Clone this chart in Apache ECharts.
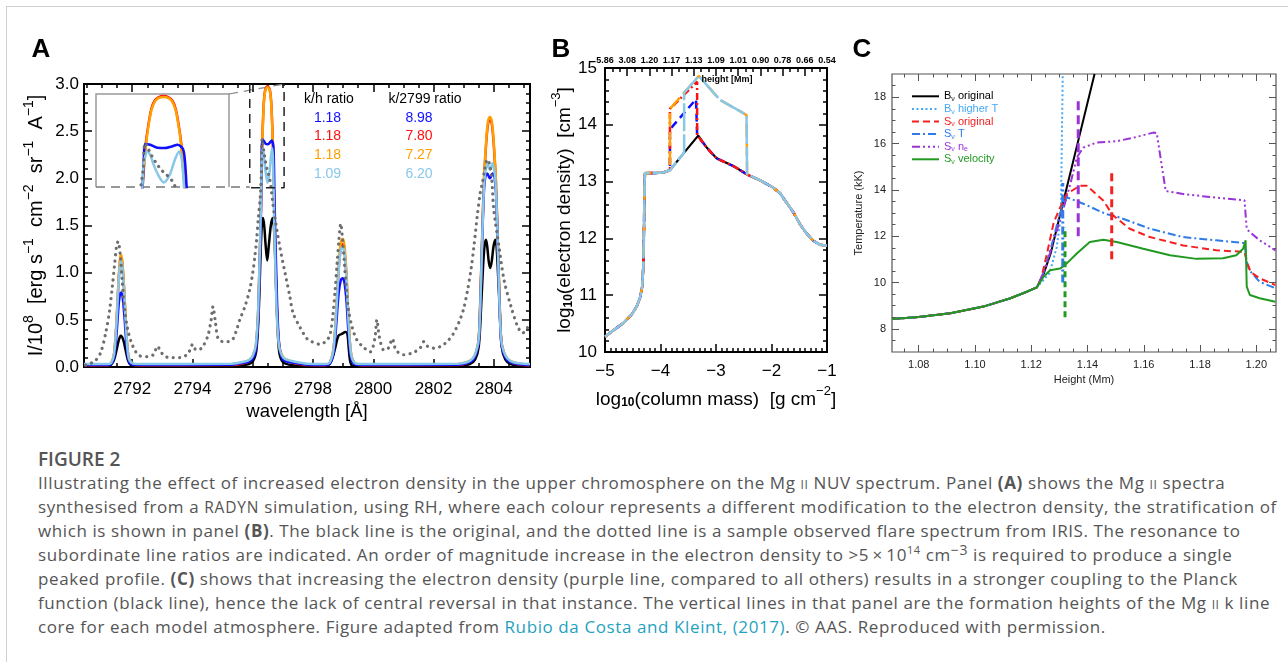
<!DOCTYPE html>
<html>
<head>
<meta charset="utf-8">
<title>Figure 2</title>
<script src="https://cdn.jsdelivr.net/npm/echarts@6.0.0/dist/echarts.min.js"></script>
<style>
  html, body { margin: 0; padding: 0; background: #fff; }
  #page { position: relative; width: 1288px; height: 662px; overflow: hidden; }
  #card { position: absolute; left: 6px; top: 6px; width: 1400px; height: 800px; border-left: 1px solid #cfcfcf; border-top: 1px solid #cfcfcf; }
  #chart { position: absolute; left: 0; top: 0; width: 1288px; height: 440px; }
  #caption { position: absolute; left: 38px; top: 440px; color: #555; font-family: "Open Sans", sans-serif; white-space: nowrap; }
  #caption .title { position: absolute; top: 7px; font-size: 19px; font-weight: 600; line-height: 24px; }
  #caption .ln { position: absolute; left: 0; font-size: 17px; letter-spacing: 0.6px; line-height: 24px; }
  .sc { font-variant: small-caps; }
  .rd { font-size: 15.5px; letter-spacing: 0.8px; }
  b { font-weight: 700; }
  a { color: #1fa2bf; text-decoration: none; }
  sup { line-height: 0; }
  sup.s1 { font-size: 11px; vertical-align: 7px; }
  sup.s2 { font-size: 14px; vertical-align: 6px; }
</style>
</head>
<body>
<div id="page">
  <div id="card"></div>
  <div id="chart"></div>
  <div id="caption">
    <div class="title">FIGURE 2</div>
    <div class="ln" style="top:31px">Illustrating the effect of increased electron density in the upper chromosphere on the Mg <span class="sc">ii</span> NUV spectrum. Panel <b>(A)</b> shows the Mg <span class="sc">ii</span> spectra</div>
    <div class="ln" style="top:55px">synthesised from a <span class="rd">RADYN</span> simulation, using RH, where each colour represents a different modification to the electron density, the stratification of</div>
    <div class="ln" style="top:79px">which is shown in panel <b>(B)</b>. The black line is the original, and the dotted line is a sample observed flare spectrum from IRIS. The resonance to</div>
    <div class="ln" style="top:103px">subordinate line ratios are indicated. An order of magnitude increase in the electron density to &gt;5&thinsp;×&thinsp;10<sup class="s1">14</sup> cm<sup class="s2">−3</sup> is required to produce a single</div>
    <div class="ln" style="top:127px">peaked profile. <b>(C)</b> shows that increasing the electron density (purple line, compared to all others) results in a stronger coupling to the Planck</div>
    <div class="ln" style="top:151px">function (black line), hence the lack of central reversal in that instance. The vertical lines in that panel are the formation heights of the Mg <span class="sc">ii</span> k line</div>
    <div class="ln" style="top:175px">core for each model atmosphere. Figure adapted from <a>Rubio da Costa and Kleint, (2017)</a>. © AAS. Reproduced with permission.</div>
  </div>
</div>
<script>
// ---------- panel A: Mg II spectra, [wavelength (Å), I/1e8] ----------
const specBlack = [
  [2790.4,0.012],[2791.2,0.012],[2791.3,0.025],[2791.4,0.08],[2791.48,0.18],[2791.55,0.28],[2791.62,0.33],[2791.7,0.29],[2791.78,0.18],[2791.86,0.07],[2791.95,0.02],[2792.1,0.012],
  [2795.4,0.014],[2795.8,0.025],[2796.0,0.06],[2796.12,0.18],[2796.2,0.6],[2796.26,1.2],[2796.3,1.5],[2796.34,1.58],[2796.38,1.5],[2796.43,1.28],[2796.48,1.13],[2796.53,1.28],[2796.6,1.5],[2796.66,1.58],[2796.7,1.5],[2796.74,1.2],[2796.8,0.6],[2796.87,0.18],[2796.98,0.06],[2797.2,0.025],[2797.6,0.014],
  [2798.45,0.012],[2798.55,0.035],[2798.65,0.1],[2798.75,0.22],[2798.84,0.33],[2798.95,0.35],[2799.08,0.37],[2799.14,0.35],[2799.19,0.18],[2799.24,0.05],[2799.32,0.012],
  [2802.9,0.014],[2803.2,0.03],[2803.38,0.08],[2803.5,0.22],[2803.58,0.65],[2803.64,1.05],[2803.69,1.28],[2803.74,1.35],[2803.78,1.28],[2803.83,1.12],[2803.88,1.05],[2803.93,1.12],[2803.99,1.28],[2804.05,1.35],[2804.09,1.28],[2804.13,1.05],[2804.19,0.65],[2804.26,0.22],[2804.38,0.08],[2804.56,0.03],[2804.9,0.014],[2805.2,0.012]
];
const specRed = [
  [2790.4,0.018],[2791.2,0.018],[2791.3,0.035],[2791.4,0.14],[2791.48,0.48],[2791.55,0.92],[2791.6,1.13],[2791.63,1.16],[2791.67,1.1],[2791.73,0.83],[2791.8,0.39],[2791.88,0.1],[2792.0,0.03],[2792.2,0.018],
  [2795.3,0.02],[2795.7,0.04],[2795.9,0.07],[2796.0,0.11],[2796.1,0.21],[2796.17,0.52],[2796.22,1.02],[2796.26,1.52],[2796.283,1.92],[2796.302,2.2],[2796.317,2.42],[2796.34,2.62],[2796.37,2.82],[2796.403,2.92],[2796.44,2.96],[2796.49,2.975],[2796.54,2.96],[2796.577,2.92],[2796.61,2.82],[2796.64,2.62],[2796.663,2.42],[2796.678,2.2],[2796.697,1.92],[2796.723,1.52],[2796.763,1.02],[2796.813,0.52],[2796.883,0.21],[2796.98,0.11],[2797.1,0.07],[2797.4,0.04],[2797.8,0.02],
  [2798.4,0.018],[2798.55,0.04],[2798.68,0.19],[2798.77,0.57],[2798.85,1.03],[2798.92,1.26],[2798.98,1.3],[2799.04,1.24],[2799.11,0.95],[2799.18,0.48],[2799.26,0.14],[2799.38,0.04],[2799.6,0.018],
  [2802.8,0.02],[2803.1,0.04],[2803.3,0.08],[2803.42,0.16],[2803.5,0.3],[2803.56,0.8],[2803.62,1.45],[2803.67,1.95],[2803.71,2.19],[2803.76,2.43],[2803.81,2.58],[2803.87,2.63],[2803.93,2.58],[2803.98,2.43],[2804.03,2.19],[2804.07,1.95],[2804.12,1.45],[2804.18,0.8],[2804.24,0.3],[2804.32,0.16],[2804.45,0.08],[2804.65,0.04],[2805.0,0.02],[2805.2,0.018]
];
const specOrange = [
  [2790.4,0.028],[2791.2,0.028],[2791.3,0.04],[2791.4,0.15],[2791.48,0.5],[2791.55,0.95],[2791.6,1.16],[2791.63,1.19],[2791.67,1.12],[2791.73,0.85],[2791.8,0.4],[2791.88,0.1],[2792.0,0.04],[2792.2,0.028],
  [2795.3,0.03],[2795.7,0.05],[2795.9,0.08],[2796.0,0.12],[2796.1,0.22],[2796.17,0.52],[2796.22,1.02],[2796.26,1.52],[2796.286,1.92],[2796.305,2.2],[2796.32,2.42],[2796.343,2.62],[2796.372,2.81],[2796.405,2.91],[2796.44,2.95],[2796.49,2.965],[2796.54,2.95],[2796.575,2.91],[2796.608,2.81],[2796.637,2.62],[2796.66,2.42],[2796.675,2.2],[2796.694,1.92],[2796.72,1.52],[2796.76,1.02],[2796.81,0.52],[2796.88,0.22],[2796.98,0.12],[2797.1,0.08],[2797.4,0.05],[2797.8,0.03],
  [2798.4,0.028],[2798.55,0.045],[2798.68,0.2],[2798.77,0.6],[2798.85,1.08],[2798.92,1.32],[2798.98,1.36],[2799.04,1.3],[2799.11,1.0],[2799.18,0.5],[2799.26,0.15],[2799.38,0.045],[2799.6,0.028],
  [2802.8,0.03],[2803.1,0.05],[2803.3,0.09],[2803.42,0.17],[2803.5,0.31],[2803.56,0.82],[2803.62,1.47],[2803.67,1.97],[2803.71,2.22],[2803.76,2.46],[2803.81,2.61],[2803.87,2.65],[2803.93,2.61],[2803.98,2.46],[2804.03,2.22],[2804.07,1.97],[2804.12,1.47],[2804.18,0.82],[2804.24,0.31],[2804.32,0.17],[2804.45,0.09],[2804.65,0.05],[2805.0,0.03],[2805.2,0.028]
];
const specBlue = [
  [2790.4,0.022],[2791.2,0.022],[2791.3,0.03],[2791.4,0.1],[2791.48,0.35],[2791.55,0.66],[2791.6,0.78],[2791.64,0.79],[2791.69,0.72],[2791.75,0.5],[2791.82,0.2],[2791.9,0.05],[2792.0,0.025],[2792.2,0.022],
  [2795.3,0.025],[2795.7,0.045],[2795.9,0.06],[2796.0,0.09],[2796.1,0.18],[2796.17,0.45],[2796.22,0.95],[2796.26,1.45],[2796.287,1.92],[2796.298,2.25],[2796.31,2.41],[2796.36,2.4],[2796.43,2.365],[2796.5,2.36],[2796.57,2.38],[2796.627,2.4],[2796.68,2.35],[2796.7,2.2],[2796.715,1.92],[2796.74,1.5],[2796.78,1.0],[2796.83,0.48],[2796.89,0.2],[2796.98,0.09],[2797.1,0.06],[2797.4,0.045],[2797.8,0.025],
  [2798.4,0.022],[2798.55,0.03],[2798.68,0.15],[2798.77,0.45],[2798.85,0.78],[2798.92,0.92],[2798.98,0.94],[2799.04,0.9],[2799.11,0.7],[2799.18,0.35],[2799.26,0.1],[2799.38,0.03],[2799.6,0.022],
  [2802.8,0.025],[2803.1,0.04],[2803.3,0.07],[2803.42,0.15],[2803.5,0.28],[2803.56,0.75],[2803.62,1.4],[2803.67,1.85],[2803.72,2.02],[2803.78,2.05],[2803.87,2.0],[2803.96,2.05],[2804.02,2.02],[2804.07,1.85],[2804.12,1.4],[2804.18,0.75],[2804.24,0.28],[2804.32,0.15],[2804.45,0.07],[2804.65,0.04],[2805.0,0.025],[2805.2,0.022]
];
const specLightBlue = [
  [2790.4,0.032],[2791.2,0.032],[2791.3,0.04],[2791.4,0.14],[2791.48,0.47],[2791.55,0.9],[2791.6,1.09],[2791.63,1.12],[2791.67,1.06],[2791.73,0.8],[2791.8,0.38],[2791.88,0.1],[2792.0,0.04],[2792.2,0.032],
  [2795.3,0.035],[2795.7,0.055],[2795.9,0.08],[2796.0,0.12],[2796.1,0.23],[2796.17,0.54],[2796.22,1.06],[2796.26,1.56],[2796.284,1.92],[2796.29,2.1],[2796.306,2.24],[2796.329,2.32],[2796.36,2.28],[2796.388,2.18],[2796.437,2.045],[2796.493,1.954],[2796.551,2.045],[2796.6,2.22],[2796.643,2.32],[2796.665,2.25],[2796.676,2.14],[2796.689,1.92],[2796.71,1.56],[2796.75,1.06],[2796.8,0.54],[2796.87,0.23],[2796.97,0.12],[2797.1,0.08],[2797.4,0.055],[2797.8,0.035],
  [2798.4,0.032],[2798.55,0.045],[2798.68,0.19],[2798.77,0.57],[2798.85,1.02],[2798.92,1.24],[2798.98,1.27],[2799.04,1.22],[2799.11,0.93],[2799.18,0.47],[2799.26,0.14],[2799.38,0.045],[2799.6,0.032],
  [2802.8,0.035],[2803.1,0.05],[2803.3,0.09],[2803.42,0.17],[2803.5,0.3],[2803.56,0.75],[2803.62,1.42],[2803.67,1.88],[2803.71,2.05],[2803.75,2.12],[2803.79,2.16],[2803.83,2.12],[2803.87,2.09],[2803.91,2.12],[2803.95,2.16],[2803.99,2.12],[2804.03,2.05],[2804.07,1.88],[2804.12,1.42],[2804.18,0.75],[2804.24,0.3],[2804.32,0.17],[2804.45,0.09],[2804.65,0.05],[2805.0,0.035],[2805.2,0.032]
];
const specObserved = [
  [2790.45,0.02],[2790.75,0.06],[2790.95,0.15],[2791.12,0.36],[2791.25,0.6],[2791.34,0.85],[2791.42,1.1],[2791.48,1.28],[2791.53,1.33],[2791.6,1.2],[2791.67,0.9],[2791.75,0.6],[2791.85,0.4],[2791.96,0.27],[2792.1,0.17],[2792.24,0.12],[2792.5,0.11],[2792.7,0.13],[2792.84,0.22],[2792.95,0.16],[2793.1,0.11],[2793.3,0.1],[2793.6,0.1],[2793.85,0.14],[2794.01,0.24],[2794.12,0.18],[2794.3,0.2],[2794.5,0.32],[2794.62,0.5],[2794.68,0.64],[2794.75,0.5],[2794.85,0.3],[2795.0,0.27],[2795.2,0.27],[2795.35,0.3],[2795.45,0.38],[2795.57,0.5],[2795.75,0.65],[2795.9,0.82],[2796.0,1.0],[2796.07,1.17],[2796.13,1.35],[2796.18,1.56],[2796.25,1.8],[2796.29,2.1],[2796.31,2.42],[2796.37,2.28],[2796.42,2.18],[2796.47,2.1],[2796.52,2.045],[2796.57,1.98],[2796.6,1.915],[2796.66,1.75],[2796.73,1.59],[2796.9,1.27],[2797.12,0.92],[2797.23,0.75],[2797.34,0.57],[2797.57,0.42],[2797.8,0.3],[2797.95,0.27],[2798.23,0.24],[2798.45,0.28],[2798.57,0.35],[2798.66,0.55],[2798.73,0.8],[2798.8,1.1],[2798.86,1.35],[2798.92,1.52],[2798.98,1.35],[2799.04,1.1],[2799.1,0.85],[2799.18,0.6],[2799.3,0.42],[2799.45,0.29],[2799.67,0.21],[2799.9,0.16],[2800.05,0.3],[2800.12,0.5],[2800.2,0.32],[2800.35,0.18],[2800.5,0.2],[2800.63,0.3],[2800.75,0.18],[2801.0,0.13],[2801.3,0.15],[2801.55,0.2],[2801.68,0.27],[2801.8,0.22],[2802.0,0.2],[2802.25,0.22],[2802.45,0.27],[2802.65,0.35],[2802.85,0.48],[2803.0,0.62],[2803.12,0.8],[2803.25,1.05],[2803.34,1.28],[2803.45,1.6],[2803.55,1.85],[2803.62,1.95],[2803.7,2.1],[2803.78,2.2],[2803.86,2.15],[2803.93,2.0],[2804.0,1.66],[2804.17,1.28],[2804.34,0.92],[2804.57,0.64],[2804.79,0.43],[2804.95,0.36],[2805.05,0.38],[2805.15,0.44]
];
const aRangeX = [2790.4, 2805.2];
const aRangeY = [0, 3.0];
const aTicksX = [2792, 2794, 2796, 2798, 2800, 2802, 2804];
const aTicksY = [0, 0.5, 1.0, 1.5, 2.0, 2.5, 3.0];
const zoomBoxX = [2795.9, 2797.04];
const zoomBoxY = [1.9, 3.0];
const insetRangeX = [2795.83, 2797.13];
const insetRangeY = [1.9, 3.0];
const ratioHeads = ['k/h ratio', 'k/2799 ratio'];
const khRatio = ['1.18', '1.18', '1.18', '1.09'];
const k2799Ratio = ['8.98', '7.80', '7.27', '6.20'];

// ---------- panel B: electron density, [log10 column mass, log10 ne] ----------
const neBaseLeft = [[-5.0,10.27],[-4.85,10.38],[-4.67,10.51],[-4.52,10.66],[-4.43,10.8],[-4.37,10.95],[-4.33,11.15],[-4.31,11.5],[-4.3,12.0],[-4.29,12.7],[-4.285,13.0],[-4.28,13.15],[-4.1,13.15],[-3.95,13.16],[-3.83,13.2]];
const neBlackPeak = [[-3.574,13.51],[-3.32,13.81]];
const neBaseRight = [[-3.16,13.59],[-2.99,13.41],[-2.68,13.27],[-2.43,13.12],[-2.2,13.02],[-1.98,12.9],[-1.85,12.8],[-1.75,12.66],[-1.6,12.45],[-1.48,12.24],[-1.37,12.09],[-1.25,11.96],[-1.13,11.89],[-1.0,11.87]];
const neBlueBump = [[-3.83,13.92],[-3.36,14.45],[-3.34,13.82]];
const neRedBump = [[-3.83,14.28],[-3.34,14.76],[-3.34,13.82]];
const neOrangeStart = [[-3.83,14.28]];
const neLightBlueStart = [[-3.574,13.51],[-3.574,14.565]];
const neWideBump = [[-3.31,14.86],[-3.03,14.55],[-2.93,14.44],[-2.57,14.24],[-2.45,14.17],[-2.44,13.13]];
const heightLabels = ['5.86','3.08','1.20','1.17','1.13','1.09','1.01','0.90','0.78','0.66','0.54'];
const bTicksX = [-5, -4, -3, -2, -1];
const bTicksY = [10, 11, 12, 13, 14, 15];

// ---------- panel C: temperature vs height, [Mm, kK] ----------
const cBase = [[1.0705,8.42],[1.08,8.51],[1.0912,8.67],[1.103,8.96],[1.1126,9.32],[1.1184,9.6],[1.122,9.79]];
const bvOriginal = [[1.1245,10.4],[1.127,11.3],[1.129,12.3],[1.1425,19.0]];
const bvHigherT = [[1.1265,10.4],[1.129,11.5],[1.1305,12.8],[1.1312,19.0]];
const svOriginal = [[1.1235,10.15],[1.1255,11.2],[1.128,12.6],[1.1305,13.3],[1.1326,13.82],[1.1373,14.18],[1.1397,14.18],[1.1456,13.54],[1.149,12.9],[1.155,12.32],[1.1622,11.96],[1.174,11.6],[1.1858,11.39],[1.1958,11.32],[1.1966,10.9],[1.198,10.45],[1.2012,10.18],[1.2068,9.89]];
const svT = [[1.124,10.3],[1.127,11.5],[1.13,12.9],[1.1326,13.68],[1.1385,13.4],[1.1467,12.95],[1.1504,12.85],[1.1622,12.32],[1.174,11.96],[1.1858,11.82],[1.1958,11.7],[1.1966,10.9],[1.1975,10.53],[1.2012,10.03],[1.2068,9.75]];
const svNe = [[1.125,10.6],[1.128,11.8],[1.131,13.0],[1.134,14.3],[1.1362,15.4],[1.1385,15.82],[1.1432,16.04],[1.1504,16.1],[1.1563,16.25],[1.1634,16.47],[1.1646,16.45],[1.1678,13.95],[1.175,13.8],[1.187,13.65],[1.1958,13.55],[1.1966,12.3],[1.1977,12.18],[1.2012,11.82],[1.2068,11.39]];
const svVelocity = [[1.1243,10.24],[1.1267,10.53],[1.1302,10.6],[1.132,10.75],[1.1362,11.25],[1.1408,11.75],[1.1456,11.85],[1.1504,11.75],[1.1598,11.46],[1.1693,11.18],[1.1787,11.02],[1.1882,11.05],[1.1929,11.18],[1.1953,11.46],[1.1962,11.82],[1.1966,9.82],[1.1977,9.46],[1.2012,9.32],[1.2068,9.17]];
// formation heights of the k line core
const fhOriginal = [[1.1486,11.0],[1.1486,14.9]];
const fhT = [[1.1312,10.0],[1.1312,14.3]];
const fhNe = [[1.1367,12.0],[1.1367,18.0]];
const fhVelocity = [[1.132,8.5],[1.132,12.4]];
const cRangeX = [1.0705, 1.207];
const cRangeY = [7, 19];
const cTicksX = [1.08, 1.10, 1.12, 1.14, 1.16, 1.18, 1.20];
const cTicksY = [8, 10, 12, 14, 16, 18];
const cNames = ['Bv original', 'Bv higher T', 'Sv original', 'Sv T', 'Sv ne', 'Sv velocity'];
const cLegendText = ['{m|B}{s|ν}{m| original}', '{m|B}{s|ν}{m| higher T}', '{m|S}{s|ν}{m| original}', '{m|S}{s|ν}{m| T}', '{m|S}{s|ν}{m| n}{s|e}', '{m|S}{s|ν}{m| velocity}'];

// colours
const C_BLUE = '#1010ff', C_RED = '#ff1010', C_ORANGE = '#ffa000', C_LBLUE = '#87c8ea', C_OBS = '#6e6e6e';
const cColors = ['#000000', '#45a8f5', '#f52020', '#2f7ce8', '#9a33d6', '#229a22'];
const FONT = '"Liberation Sans", Arial, sans-serif';

// layout
const GA = { left: 84, top: 84, width: 446, height: 283 };
const GI = { left: 96, top: 94, width: 133, height: 93 };
const GB = { left: 605, top: 68, width: 222, height: 284 };
const GC = { left: 892, top: 74, width: 384, height: 278 };

function steps(a, b, s) {
  const out = [];
  const n = Math.round((b - a) / s);
  for (let i = 0; i <= n; i++) out.push(+(a + i * s).toFixed(6));
  return out;
}

const xAxes = [], yAxes = [];
function side(list, grid, position, range, majors, minors, st, label, extra) {
  const base = { type: 'value', gridIndex: grid, position, min: range[0], max: range[1],
    axisLine: { show: false, onZero: false }, splitLine: { show: false } };
  list.push(Object.assign({}, base, {
    axisLabel: { show: false },
    axisTick: { show: true, inside: true, length: st.minor, customValues: minors, lineStyle: { color: st.color, width: st.width } }
  }));
  list.push(Object.assign({}, base, {
    axisTick: { show: true, inside: true, length: st.major, customValues: majors, lineStyle: { color: st.color, width: st.width } },
    axisLabel: label ? Object.assign({ customValues: majors, fontFamily: FONT, color: '#000' }, label) : { show: false }
  }, extra || {}));
  return list.length - 1;
}

const stA = { major: 8, minor: 4, color: '#000', width: 1.5 };
const stC = { major: 7, minor: 3.5, color: '#555', width: 1 };
const richName = (size) => ({
  color: '#000', fontFamily: FONT,
  rich: {
    n: { fontSize: size, fontFamily: FONT, color: '#000', lineHeight: 24, verticalAlign: 'bottom' },
    p: { fontSize: size - 6, fontFamily: FONT, color: '#000', lineHeight: 24, verticalAlign: 'top' },
    b: { fontSize: size - 7, fontWeight: 'bold', fontFamily: FONT, color: '#000', lineHeight: 24, verticalAlign: 'bottom' }
  }
});
const minus = v => (v < 0 ? '\u2212' + Math.abs(v) : String(v));

// panel A axes
const aX = side(xAxes, 0, 'bottom', aRangeX, aTicksX, steps(2790.5, 2805, 0.5), stA,
  { fontSize: 17, margin: 14, formatter: v => String(v) },
  { name: 'wavelength [Å]', nameLocation: 'middle', nameGap: 32, nameTextStyle: { fontSize: 18.5, color: '#000', fontFamily: FONT } });
side(xAxes, 0, 'top', aRangeX, aTicksX, steps(2790.5, 2805, 0.5), stA);
const aY = side(yAxes, 0, 'left', aRangeY, aTicksY, steps(0, 3, 0.1), stA,
  { fontSize: 17, margin: 5, formatter: v => v.toFixed(1) },
  { name: '{n|I/10}{p|8}{n|  [erg s}{p|−1}{n|  cm}{p|−2}{n|  sr}{p|−1}{n|  A}{p|−1}{n|]}', nameLocation: 'middle', nameGap: 38, nameTextStyle: richName(20) });
side(yAxes, 0, 'right', aRangeY, aTicksY, steps(0, 3, 0.1), stA);
// inset axes
xAxes.push({ type: 'value', gridIndex: 1, min: insetRangeX[0], max: insetRangeX[1], show: false });
const iX = xAxes.length - 1;
yAxes.push({ type: 'value', gridIndex: 1, min: insetRangeY[0], max: insetRangeY[1], show: false });
const iY = yAxes.length - 1;

// panel B axes
const bX = side(xAxes, 2, 'bottom', [-5, -1], bTicksX, steps(-5, -1, 0.1), stA,
  { fontSize: 17, margin: 11, formatter: minus },
  { name: '{n|log}{b|10}{n|(column mass)  [g cm}{p|−2}{n|]}', nameLocation: 'middle', nameGap: 22, nameTextStyle: richName(19) });
side(xAxes, 2, 'top', [0, heightLabels.length - 1], heightLabels.map((d, i) => i), steps(0, 10, 1 / 3), stA,
  { fontSize: 9, fontWeight: 'bold', margin: 3, formatter: v => heightLabels[Math.round(v)] });
const bY = side(yAxes, 2, 'left', [10, 15], bTicksY, steps(10, 15, 0.2), stA,
  { fontSize: 17, margin: 8 },
  { name: '{n|log}{b|10}{n|(electron density)  [cm}{p|−3}{n|]}', nameLocation: 'middle', nameGap: 28, nameTextStyle: richName(19) });
side(yAxes, 2, 'right', [10, 15], bTicksY, steps(10, 15, 0.2), stA);

// panel C axes
const nameC = { fontSize: 11, color: '#222', fontFamily: FONT };
const cX = side(xAxes, 3, 'bottom', cRangeX, cTicksX, steps(1.075, 1.205, 0.005), stC,
  { fontSize: 11, margin: 7, color: '#222', formatter: v => v.toFixed(2) },
  { name: 'Height (Mm)', nameLocation: 'middle', nameGap: 21, nameTextStyle: nameC });
side(xAxes, 3, 'top', cRangeX, cTicksX, steps(1.075, 1.205, 0.005), stC);
const cY = side(yAxes, 3, 'left', cRangeY, cTicksY, steps(7.5, 18.5, 0.5), stC,
  { fontSize: 11, margin: 6, color: '#222' },
  { name: 'Temperature (kK)', nameLocation: 'middle', nameGap: 28, nameTextStyle: nameC });
side(yAxes, 3, 'right', cRangeY, cTicksY, steps(7.5, 18.5, 0.5), stC);

function line(data, color, xi, yi, width, dash, extra) {
  return Object.assign({
    type: 'line', data, xAxisIndex: xi, yAxisIndex: yi, symbol: 'none', silent: true,
    clip: true, smooth: false, lineStyle: { color, width, type: dash || 'solid' }
  }, extra || {});
}
const soft = { smooth: 0.3 };
const dots = { color: C_OBS, width: 3.2, type: [0.1, 6.2], cap: 'round' };

const series = [
  // panel A main
  line(specBlack, '#000', aX, aY, 2.5, null, soft),
  line(specRed, C_RED, aX, aY, 2.5, null, soft),
  line(specOrange, C_ORANGE, aX, aY, 2.5, null, soft),
  line(specBlue, C_BLUE, aX, aY, 2.5, null, soft),
  line(specLightBlue, C_LBLUE, aX, aY, 2.5, null, soft),
  Object.assign(line(specObserved, C_OBS, aX, aY, 3.2, null, soft), { lineStyle: dots }),
  line([[zoomBoxX[0], zoomBoxY[1]], [zoomBoxX[0], zoomBoxY[0]], [zoomBoxX[1], zoomBoxY[0]], [zoomBoxX[1], zoomBoxY[1]]],
    '#222', aX, aY, 1.5, [9, 6]),
  // panel A inset
  line(specRed, C_RED, iX, iY, 2.5, null, soft),
  line(specOrange, C_ORANGE, iX, iY, 2.5, null, soft),
  line(specBlue, C_BLUE, iX, iY, 2.5, null, soft),
  line(specLightBlue, C_LBLUE, iX, iY, 2.5, null, soft),
  Object.assign(line(specObserved, C_OBS, iX, iY, 3.2, null, soft), { lineStyle: dots }),
  // panel B
  line([...neBaseLeft, ...neBlackPeak, ...neBaseRight], '#000', bX, bY, 2.2),
  line([...neBaseLeft, ...neBlueBump, ...neBaseRight], C_BLUE, bX, bY, 2.5, [8, 5]),
  line([...neBaseLeft, ...neRedBump, ...neBaseRight], C_RED, bX, bY, 2.5, [7, 3, 2, 3]),
  line([...neBaseLeft, ...neOrangeStart, ...neWideBump, ...neBaseRight.filter(p => p[0] >= -2.43)], C_ORANGE, bX, bY, 2.5, [14, 5]),
  line([...neBaseLeft, ...neLightBlueStart, ...neWideBump, ...neBaseRight.filter(p => p[0] >= -2.43)], C_LBLUE, bX, bY, 2.5, [28, 3]),
  // panel C
  line([...cBase, ...bvOriginal], cColors[0], cX, cY, 2, null, { name: cNames[0] }),
  line([...cBase, ...bvHigherT], cColors[1], cX, cY, 2, [2, 2.5], { name: cNames[1] }),
  line([...cBase, ...svT], cColors[3], cX, cY, 2, [8, 3, 2, 3], { name: cNames[3] }),
  line([...cBase, ...svOriginal], cColors[2], cX, cY, 2, [7, 4], { name: cNames[2] }),
  line([...cBase, ...svNe], cColors[4], cX, cY, 2, [8, 3, 2, 3, 2, 3, 2, 3], { name: cNames[4] }),
  line([...cBase, ...svVelocity], cColors[5], cX, cY, 2, null, { name: cNames[5] }),
  line(fhOriginal, cColors[2], cX, cY, 3, [8, 5]),
  line(fhT, cColors[3], cX, cY, 3, [8, 3, 2, 3]),
  line(fhNe, cColors[4], cX, cY, 3, [9, 5]),
  line(fhVelocity, cColors[5], cX, cY, 3, [6, 4])
];

const chart = echarts.init(document.getElementById('chart'));
chart.setOption({
  animation: false,
  grid: [
    Object.assign({ show: true, borderColor: '#000', borderWidth: 2 }, GA),
    Object.assign({ show: false }, GI),
    Object.assign({ show: true, borderColor: '#000', borderWidth: 2 }, GB),
    Object.assign({ show: true, borderColor: '#555', borderWidth: 1.2 }, GC)
  ],
  xAxis: xAxes,
  yAxis: yAxes,
  legend: {
    orient: 'vertical', left: 911, top: 90, padding: 0, itemWidth: 27, itemHeight: 8, itemGap: 0,
    selectedMode: false,
    itemStyle: { opacity: 0 },
    data: cNames.map((n, i) => ({ name: n, textStyle: { color: cColors[i] } })),
    formatter: n => cLegendText[cNames.indexOf(n)],
    textStyle: {
      fontSize: 11, fontFamily: FONT, lineHeight: 12.6,
      rich: {
        m: { fontSize: 11, fontFamily: FONT, lineHeight: 12.6 },
        s: { fontSize: 7, fontFamily: FONT, lineHeight: 12.6, verticalAlign: 'bottom' }
      }
    }
  },
  series
});

// annotations (panel letters, ratio table, inset frame and connectors)
const pBL = chart.convertToPixel({ gridIndex: 0 }, [zoomBoxX[0], zoomBoxY[0]]);
const pTR = chart.convertToPixel({ gridIndex: 0 }, [zoomBoxX[1], zoomBoxY[1]]);
const iL = GI.left, iT = GI.top, iR = GI.left + GI.width, iB = GI.top + GI.height;
const ratioColors = [C_BLUE, C_RED, C_ORANGE, C_LBLUE];
const txt = (x, y, text, font, fill) => ({ type: 'text', x, y, z: 100,
  style: { text, font, fill: fill || '#000', align: 'center', verticalAlign: 'middle' } });
const graphic = [
  txt(41, 50, 'A', 'bold 26px ' + FONT),
  txt(561, 50, 'B', 'bold 26px ' + FONT),
  txt(862, 50, 'C', 'bold 26px ' + FONT),
  txt(329, 99, ratioHeads[0], '14px ' + FONT),
  txt(425, 99, ratioHeads[1], '14px ' + FONT),
  txt(727, 80, 'height [Mm]', 'bold 9px ' + FONT),
  { type: 'polyline', shape: { points: [[iL, iB], [iL, iT], [iR, iT], [iR, iB]] }, style: { stroke: '#999', lineWidth: 1.5, fill: null } },
  { type: 'line', shape: { x1: iL, y1: iB, x2: pBL[0], y2: iB }, style: { stroke: '#777', lineWidth: 1.5, lineDash: [9, 6] } },
  { type: 'line', shape: { x1: iR, y1: iT, x2: pTR[0], y2: pTR[1] }, style: { stroke: '#888', lineWidth: 1.2, lineDash: [9, 6] } }
];
khRatio.forEach((t, i) => {
  graphic.push(txt(327.5, 117.7 + i * 18.9, t, '14px ' + FONT, ratioColors[i]));
  graphic.push(txt(419, 117.7 + i * 18.9, k2799Ratio[i], '14px ' + FONT, ratioColors[i]));
});
chart.setOption({ graphic });
</script>
</body>
</html>
